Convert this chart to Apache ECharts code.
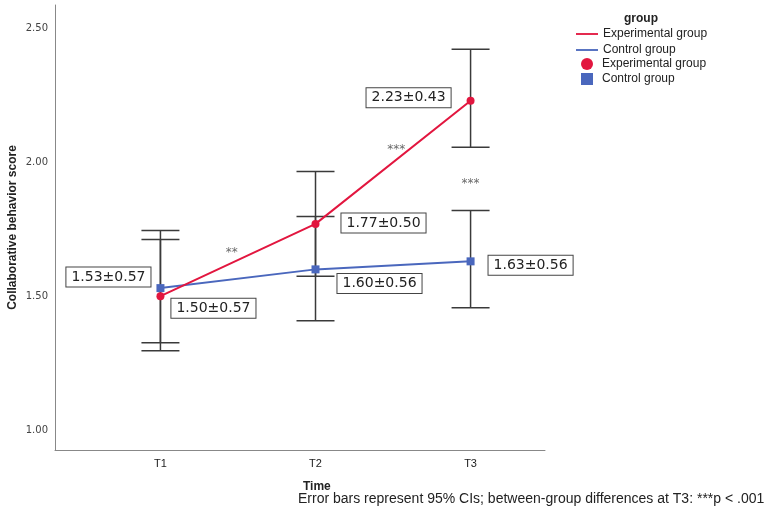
<!DOCTYPE html>
<html lang="en">
<head>
    <meta charset="UTF-8">
    <title>Collaborative behavior score</title>
    <script src="https://cdn.jsdelivr.net/npm/echarts@6/dist/echarts.min.js"></script>
    <style>
        body { margin: 0; background: #fff; }
        #chart { width: 767px; height: 512px; }
    </style>
</head>
<body>
<div id="chart"></div>
<script>
    // 数据
    const times = ['T1', 'T2', 'T3'];
    const timeX = [1, 2, 3];
    const expMean = [1.50, 1.77, 2.23];
    const expSd = [0.57, 0.50, 0.43];
    const expLow = [1.296, 1.574, 2.056];
    const expHigh = [1.712, 1.966, 2.423];
    const ctrlMean = [1.53, 1.60, 1.63];
    const ctrlSd = [0.57, 0.56, 0.56];
    const ctrlLow = [1.326, 1.408, 1.457];
    const ctrlHigh = [1.745, 1.798, 1.820];
    const yTicks = [1.00, 1.50, 2.00, 2.50];
    // 显著性标记 [x, y, 文本]
    const stars = [[1.46, 1.663, '**'], [2.52, 2.045, '***'], [3.0, 1.92, '***']];

    // 标签偏移（像素）
    const expOffsets = [[53, 12], [68, -1], [-62, -3]];
    const ctrlOffsets = [[-52, -11], [64, 14], [60, 4]];

    const RED = '#e2163f';
    const BLUE = '#4a67bd';

    const chart = echarts.init(document.getElementById('chart'));

    const boxLabel = {
        show: true,
        position: 'inside',
        color: '#222',
        fontSize: 14,
        fontFamily: 'DejaVu Sans',
        borderColor: '#444',
        borderWidth: 1,
        backgroundColor: '#fff',
        padding: [3, 5, 2, 5]
    };

    function lineData(means, sds, offsets) {
        return means.map((m, i) => ({
            value: [timeX[i], m],
            label: Object.assign({}, boxLabel, {
                offset: offsets[i],
                formatter: m.toFixed(2) + '±' + sds[i].toFixed(2)
            })
        }));
    }

    function errData(low, high) {
        return low.map((l, i) => [timeX[i], l, high[i]]);
    }

    // 误差线：竖线 + 上下横帽
    function renderErr(params, api) {
        const x = api.value(0);
        const lo = api.coord([x, api.value(1)]);
        const hi = api.coord([x, api.value(2)]);
        const w = 19;
        const style = { stroke: '#3a3a3a', lineWidth: 1.5 };
        return {
            type: 'group',
            children: [
                { type: 'line', shape: { x1: lo[0], y1: lo[1], x2: hi[0], y2: hi[1] }, style },
                { type: 'line', shape: { x1: lo[0] - w, y1: lo[1], x2: lo[0] + w, y2: lo[1] }, style },
                { type: 'line', shape: { x1: hi[0] - w, y1: hi[1], x2: hi[0] + w, y2: hi[1] }, style }
            ]
        };
    }

    const linePath = 'path://M0,0 H24 V2 H0 Z';
    const legendText = { fontSize: 12, color: '#222', fontFamily: 'Liberation Sans' };

    chart.setOption({
        animation: false,
        title: [
            { text: 'group', left: 619, top: 8, textStyle: { fontSize: 12, fontWeight: 'bold', color: '#222', fontFamily: 'Liberation Sans' } },
            { text: 'Time', left: 298, top: 476, textStyle: { fontSize: 12, fontWeight: 'bold', color: '#222', fontFamily: 'Liberation Sans' } },
            { text: 'Error bars represent 95% CIs; between-group differences at T3: ***p < .001', left: 293, top: 487,
              textStyle: { fontSize: 14, fontWeight: 'normal', color: '#222', fontFamily: 'Liberation Sans' } }
        ],
        legend: [
            {
                orient: 'vertical', left: 576, top: 28, padding: 0, itemWidth: 22, itemHeight: 2, itemGap: 4,
                textStyle: legendText, selectedMode: false,
                data: [
                    { name: 'Experimental group', icon: linePath, itemStyle: { color: RED } },
                    { name: 'Control group', icon: linePath, itemStyle: { color: BLUE } }
                ]
            },
            {
                orient: 'vertical', left: 581, top: 58, padding: 0, itemWidth: 12, itemHeight: 12, itemGap: 3,
                textStyle: Object.assign({}, legendText, { padding: [0, 0, 0, 4] }), selectedMode: false,
                data: [
                    { name: 'Experimental group', icon: 'circle', itemStyle: { color: RED } },
                    { name: 'Control group', icon: 'rect', itemStyle: { color: BLUE } }
                ]
            }
        ],
        grid: { left: 55, right: 222, top: 5, bottom: 62, outerBoundsMode: 'none', containLabel: false },
        xAxis: {
            type: 'value',
            min: 0.32,
            max: 3.48,
            splitLine: { show: false },
            axisLine: { lineStyle: { color: '#888', width: 1 } },
            axisTick: { show: false },
            axisLabel: {
                customValues: timeX,
                formatter: v => times[Math.round(v) - 1],
                color: '#222', fontSize: 11, margin: 8, fontFamily: 'Liberation Sans'
            }
        },
        yAxis: {
            type: 'value',
            min: 0.925,
            max: 2.588,
            name: 'Collaborative behavior score',
            nameLocation: 'middle',
            nameGap: 36,
            nameMoveOverlap: false,
            nameTextStyle: { fontSize: 12, fontWeight: 'bold', color: '#222', fontFamily: 'Liberation Sans' },
            splitLine: { show: false },
            axisLine: { show: true, lineStyle: { color: '#888', width: 1 } },
            axisTick: { show: false },
            axisLabel: {
                customValues: yTicks,
                formatter: v => v.toFixed(2),
                color: '#444', fontSize: 10, margin: 7, fontFamily: 'DejaVu Sans'
            }
        },
        series: [
            {
                name: 'errExp', type: 'custom', renderItem: renderErr, data: errData(expLow, expHigh), z: 1,
                encode: { x: 0, y: [1, 2] }
            },
            {
                name: 'errCtrl', type: 'custom', renderItem: renderErr, data: errData(ctrlLow, ctrlHigh), z: 1,
                encode: { x: 0, y: [1, 2] }
            },
            {
                name: 'Control group', type: 'line', data: lineData(ctrlMean, ctrlSd, ctrlOffsets),
                symbol: 'rect', symbolSize: 8, color: BLUE, lineStyle: { width: 2, color: BLUE }, z: 3
            },
            {
                name: 'Experimental group', type: 'line', data: lineData(expMean, expSd, expOffsets),
                symbol: 'circle', symbolSize: 8, color: RED, lineStyle: { width: 2, color: RED }, z: 4
            },
            {
                name: 'stars', type: 'scatter', symbolSize: 0,
                data: stars.map(s => ({ value: [s[0], s[1]], label: { formatter: s[2] } })),
                label: { show: true, position: 'inside', color: '#444', fontSize: 12, fontFamily: 'DejaVu Sans' },
                z: 5
            }
        ]
    });
</script>
</body>
</html>
